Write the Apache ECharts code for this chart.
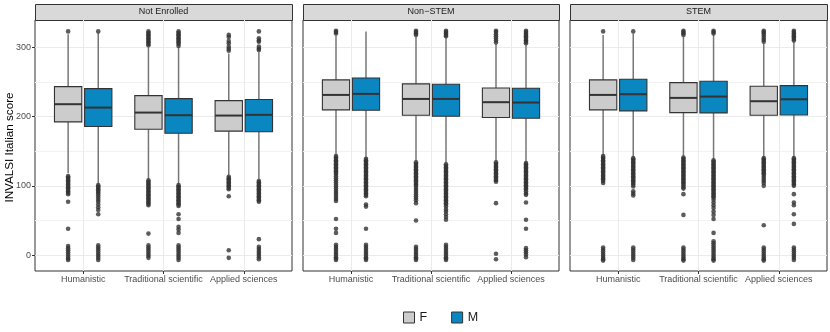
<!DOCTYPE html>
<html><head><meta charset="utf-8">
<script src="https://cdn.jsdelivr.net/npm/echarts@6/dist/echarts.min.js"></script>
<style>html,body{margin:0;padding:0;background:#fff}#c{width:830px;height:332px}</style>
</head><body><div id="c"></div>
<script>
const facets = ['Not Enrolled', 'Non\u2212STEM', 'STEM'];
const categories = ['Humanistic', 'Traditional scientific', 'Applied sciences'];
const groups = ['F', 'M'];
const yTitle = 'INVALSI Italian score';
const yTicks = [0, 100, 200, 300];
const yMinorTicks = [50, 150, 250];
const catTicks = [1, 2, 3];

// [lower whisker, Q1, median, Q3, upper whisker]; order: Hum F, Hum M, Trad F, Trad M, App F, App M
const boxNotEnrolled = [
  [118, 192.4, 217.9, 243.3, 319],
  [103, 185.6, 213, 240.4, 321],
  [110, 181.8, 205.8, 230.3, 301],
  [103, 176, 202, 226, 300],
  [115, 179, 201.5, 223, 291],
  [109, 178, 202.5, 224.6, 293]
];
const boxNonSTEM = [
  [145, 209.7, 231.3, 253, 317],
  [141, 209.2, 232.8, 255.8, 323],
  [136, 202, 225.5, 247.2, 315],
  [133, 200.6, 225.5, 246.7, 315],
  [136, 198.6, 220.8, 241.4, 305],
  [135, 197.7, 220.3, 241, 304]
];
const boxSTEM = [
  [145, 209.7, 231.3, 253, 318],
  [142, 208.2, 232.3, 254, 320],
  [143, 205.8, 227, 249, 315],
  [139, 205.3, 228.9, 251, 318],
  [141, 202, 222.2, 243.8, 306],
  [141, 202.4, 225, 244.7, 308]
];

// outliers, same order
const outNotEnrolled = [
  [323, 114, 112, 110, 108, 106, 104, 102, 100, 98, 96, 94, 92, 90, 88, 77, 38, 13, 10, 7, 4, 1, -2, -5, -7],
  [323, 101, 99, 97, 95, 93, 91, 89, 86, 83, 80, 77, 73, 69, 65, 59, 14, 11, 8, 5, 2, -1, -4, -7],
  [323, 321, 319, 317, 315, 313, 311, 309, 307, 305, 303, 108, 106, 104, 102, 100, 98, 96, 94, 92, 90, 88, 86, 84, 82, 80, 78, 76, 74, 72, 31, 14, 11, 8, 5, 2, -1, -4],
  [323, 321, 319, 317, 315, 313, 311, 309, 307, 305, 302, 101, 99, 97, 95, 93, 91, 89, 87, 85, 83, 81, 79, 77, 75, 73, 71, 59, 52, 41, 37, 32, 14, 11, 8, 5, 2, -1, -4, -7],
  [318, 315, 309, 306, 301, 298, 295, 113, 111, 109, 107, 105, 103, 101, 99, 97, 95, 85, 7, -4],
  [323, 313, 310, 308, 301, 298, 296, 107, 105, 103, 101, 99, 97, 95, 93, 91, 89, 87, 85, 83, 81, 79, 77, 23, 12, 9, 6, 3, 0, -3, -6]
];
const outNonSTEM = [
  [324, 322, 320, 143, 141, 139, 137, 135, 133, 131, 129, 127, 125, 123, 121, 119, 117, 114, 111, 108, 105, 102, 99, 96, 93, 90, 87, 84, 81, 78, 52, 38, 32, 15, 12, 9, 6, 3, 0, -3, -5, -7],
  [139, 137, 135, 133, 131, 129, 127, 125, 123, 121, 119, 117, 115, 113, 111, 109, 107, 105, 103, 101, 99, 97, 95, 93, 91, 89, 87, 85, 73, 70, 38, 15, 12, 9, 6, 3, 0, -3, -5, -7],
  [324, 322, 320, 318, 134, 132, 130, 128, 126, 124, 122, 120, 118, 116, 114, 112, 110, 108, 106, 104, 102, 100, 97, 94, 91, 88, 85, 82, 79, 75, 50, 12, 9, 6, 3, 0, -3, -5, -7],
  [324, 322, 320, 318, 316, 131, 129, 127, 125, 123, 121, 119, 117, 115, 113, 111, 109, 107, 105, 103, 101, 99, 97, 95, 93, 91, 89, 87, 85, 83, 81, 79, 77, 75, 73, 70, 66, 63, 59, 55, 51, 15, 12, 9, 6, 3, 0, -3, -5, -7],
  [324, 322, 319, 316, 313, 310, 307, 134, 132, 130, 128, 126, 124, 122, 120, 118, 116, 114, 112, 110, 108, 106, 75, 2, -6],
  [324, 322, 320, 318, 316, 314, 312, 310, 308, 306, 133, 131, 129, 127, 125, 123, 121, 119, 117, 115, 113, 111, 109, 107, 105, 103, 101, 99, 97, 95, 92, 89, 87, 76, 51, 38, 10, 7, 4, 1, -3]
];
const outSTEM = [
  [323, 143, 141, 139, 137, 135, 133, 131, 129, 127, 125, 123, 121, 119, 117, 115, 113, 111, 109, 107, 104, 11, 8, 5, 2, -1, -4, -6, -8],
  [323, 140, 138, 136, 134, 132, 130, 128, 126, 124, 122, 120, 118, 116, 114, 112, 110, 108, 106, 104, 102, 99, 92, 89, 86, 11, 8, 5, 2, -1, -4, -7],
  [324, 322, 320, 318, 141, 139, 137, 135, 133, 131, 129, 127, 125, 123, 121, 119, 117, 115, 113, 111, 109, 107, 105, 103, 101, 98, 96, 88, 58, 11, 8, 5, 2, -1, -4, -6, -8],
  [324, 322, 320, 137, 135, 133, 131, 129, 127, 125, 123, 121, 119, 117, 115, 113, 111, 109, 107, 105, 103, 101, 99, 97, 95, 93, 91, 89, 87, 85, 83, 80, 76, 72, 68, 63, 58, 52, 32, 20, 17, 14, 11, 8, 5, 2, -1, -4, -6, -8],
  [324, 322, 320, 317, 314, 311, 308, 140, 138, 136, 134, 132, 130, 128, 126, 124, 122, 120, 118, 116, 113, 110, 107, 104, 100, 43, 11, 8, 5, 2, -1, -4, -6, -8],
  [324, 322, 320, 318, 316, 314, 312, 310, 140, 138, 136, 134, 132, 130, 128, 126, 124, 122, 120, 118, 116, 114, 112, 110, 108, 106, 104, 102, 100, 88, 76, 72, 59, 45, 11, 8, 5, 2, -1, -4, -7]
];

const boxSets = [boxNotEnrolled, boxNonSTEM, boxSTEM];
const outSets = [outNotEnrolled, outNonSTEM, outSTEM];

// styling / layout
const FONT = 'Liberation Sans, Arial, sans-serif';
const fillColors = ['#CCCCCC', '#0A86C1'];
const panelLefts = [35, 303, 570];
const panelWidths = [257, 256, 257];
const panelTop = 20, panelHeight = 251;
const stripTop = 4, stripHeight = 16;
const dodge = [-0.1875, 0.1875];
const boxHalf = 0.17;
const yMin = -23, yMax = 339.5;

function renderBox(params, api) {
  const x = api.value(0);
  const lo = api.coord([x, api.value(1)]);
  const q1 = api.coord([x, api.value(2)]);
  const md = api.coord([x, api.value(3)]);
  const q3 = api.coord([x, api.value(4)]);
  const hi = api.coord([x, api.value(5)]);
  const hw = api.size([boxHalf, 0])[0];
  const cx = lo[0];
  const ws = { stroke: '#777777', lineWidth: 1.5 };
  return {
    type: 'group',
    children: [
      { type: 'line', shape: { x1: cx, y1: hi[1], x2: cx, y2: q3[1] }, style: ws },
      { type: 'line', shape: { x1: cx, y1: q1[1], x2: cx, y2: lo[1] }, style: ws },
      { type: 'rect', shape: { x: cx - hw, y: q3[1], width: 2 * hw, height: q1[1] - q3[1] },
        style: { fill: fillColors[params.seriesIndex % 3 === 0 ? 0 : 1], stroke: '#333333', lineWidth: 1.1 } },
      { type: 'line', shape: { x1: cx - hw, y1: md[1], x2: cx + hw, y2: md[1] }, style: { stroke: '#333333', lineWidth: 2 } }
    ]
  };
}

const grid = [], xAxis = [], yAxis = [], series = [], graphic = [];
facets.forEach((f, i) => {
  grid.push({ left: panelLefts[i], top: panelTop, width: panelWidths[i], height: panelHeight,
    show: true, backgroundColor: '#FFFFFF', borderColor: '#333333', borderWidth: 1 });
  xAxis.push({
    type: 'value', gridIndex: i, min: 0.4, max: 3.6, position: 'bottom',
    axisLine: { show: false, onZero: false },
    axisTick: { show: true, customValues: catTicks, length: 3, lineStyle: { color: '#333333' } },
    axisLabel: { show: true, customValues: catTicks, margin: 4, fontFamily: FONT, fontSize: 9, color: '#4D4D4D',
      formatter: v => categories[Math.round(v) - 1] },
    splitLine: { show: true, lineStyle: { color: '#EBEBEB', width: 1 } }
  });
  yAxis.push({
    type: 'value', gridIndex: i, min: yMin, max: yMax,
    axisLine: { show: false, onZero: false },
    axisTick: { show: i === 0, customValues: yTicks, length: 3, lineStyle: { color: '#333333' } },
    axisLabel: { show: i === 0, customValues: yTicks, margin: 4, fontFamily: FONT, fontSize: 9, color: '#4D4D4D' },
    splitLine: { show: true, lineStyle: { color: '#EBEBEB', width: 1 } }
  });
  yAxis.push({
    type: 'value', gridIndex: i, min: yMin, max: yMax, position: 'right',
    axisLine: { show: false, onZero: false },
    axisTick: { show: false, customValues: yMinorTicks },
    axisLabel: { show: false, customValues: yMinorTicks },
    splitLine: { show: true, lineStyle: { color: '#F2F2F2', width: 1 } }
  });
  groups.forEach((g, gi) => {
    series.push({
      type: 'custom', name: g, xAxisIndex: i, yAxisIndex: 2 * i,
      itemStyle: { color: fillColors[gi], borderColor: '#333333' },
      renderItem: renderBox, clip: true, z: 3,
      encode: { x: 0, y: [1, 2, 3, 4, 5] },
      data: categories.map((c, k) => [k + 1 + dodge[gi]].concat(boxSets[i][k * 2 + gi]))
    });
  });
  const pts = [];
  categories.forEach((c, k) => {
    groups.forEach((g, gi) => {
      outSets[i][k * 2 + gi].forEach(v => pts.push([k + 1 + dodge[gi], v]));
    });
  });
  series.push({
    type: 'scatter', xAxisIndex: i, yAxisIndex: 2 * i, symbol: 'circle', symbolSize: 4.6,
    itemStyle: { color: '#333333' }, z: 4, silent: true, data: pts
  });
  graphic.push({
    type: 'rect', left: panelLefts[i], top: stripTop,
    shape: { x: 0, y: 0, width: panelWidths[i], height: stripHeight },
    style: { fill: '#D9D9D9', stroke: '#333333', lineWidth: 1 }
  });
  graphic.push({
    type: 'text', x: panelLefts[i] + panelWidths[i] / 2, y: stripTop + stripHeight / 2,
    style: { text: f, fontFamily: FONT, fontSize: 9, fill: '#1A1A1A', align: 'center', verticalAlign: 'middle' }
  });
});
graphic.push({
  type: 'text', x: 9.5, y: panelTop + panelHeight / 2 + 2, rotation: Math.PI / 2,
  style: { text: yTitle, fontFamily: FONT, fontSize: 11.7, fill: '#000000', align: 'center', verticalAlign: 'middle' }
});

// series order: per facet F(0), M(1), scatter(2) -> seriesIndex%3===0 is F
const chart = echarts.init(document.getElementById('c'), null, { renderer: 'canvas' });
chart.setOption({
  animation: false,
  backgroundColor: '#FFFFFF',
  grid, xAxis, yAxis, series, graphic,
  legend: {
    left: 398, top: 306, itemWidth: 11, itemHeight: 11, itemGap: 24, icon: 'rect',
    textStyle: { fontFamily: FONT, fontSize: 12.5, color: '#1A1A1A' },
    data: groups.map((g, gi) => ({ name: g, itemStyle: { color: fillColors[gi], borderColor: '#333333', borderWidth: 1 } }))
  }
});
</script></body></html>
